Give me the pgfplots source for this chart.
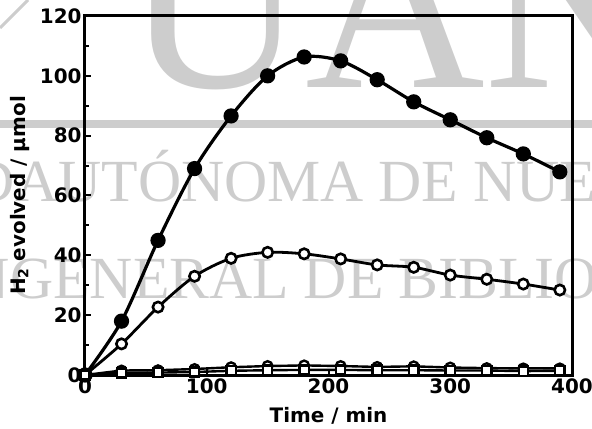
\documentclass[border=0pt]{standalone}
\usepackage{pgfplots}
\pgfplotsset{compat=1.18}
\usepackage{fontspec}
\setmainfont{DejaVu Sans}
\newfontfamily\wmfont{Liberation Serif}
\definecolor{wm}{RGB}{205,205,205}

\begin{document}
\begin{tikzpicture}
% library watermark behind the plot
\begin{scope}
\clip (-85bp,-54bp) rectangle (507bp,375bp);
\fill[wm] (-85bp,247bp) rectangle (507bp,255bp);
\draw[wm, line width=3bp] (-85bp,347bp) -- (-57bp,375bp);
\node[wm, anchor=base west, inner sep=0, font=\wmfont\fontsize{250}{250}\selectfont] at (40bp,287bp) {UAN};
\node[wm, anchor=base west, inner sep=0, font=\wmfont\fontsize{60}{60}\selectfont] at (-70bp,173bp) {AUTÓNOMA DE NUEVO LEÓN};
\node[wm, anchor=base east, inner sep=0, font=\wmfont\fontsize{60}{60}\selectfont] at (-70bp,173bp) {UNIVERSIDAD\ };
\node[wm, anchor=base west, inner sep=0, font=\wmfont\fontsize{60}{60}\selectfont] at (-75bp,76bp) {GENERAL DE BIBLIOTECAS};
\node[wm, anchor=base east, inner sep=0, font=\wmfont\fontsize{60}{60}\selectfont] at (-75bp,76bp) {DIRECCIÓN\ };
\end{scope}

\begin{axis}[
  scale only axis,
  width=487bp, height=359bp,
  xmin=0, xmax=400, ymin=0, ymax=120,
  xtick={0,100,200,300,400},
  ytick={0,20,40,60,80,100,120},
  minor y tick num=1,
  xtick pos=left, ytick pos=left,
  tick align=inside,
  major tick length=6bp, minor tick length=4bp,
  tick style={black, line width=2bp},
  axis line style={line width=3bp},
  /pgf/number format/assume math mode=true,
  ticklabel style={font=\fontsize{20}{24}\selectfont\bfseries},
  label style={font=\fontsize{20}{24}\selectfont\bfseries},
  xlabel={Time / min},
  ylabel={H\textsubscript{2} evolved / µmol},
  xlabel style={at={(axis description cs:0.5,-0.114)}, anchor=center},
  ylabel style={at={(axis description cs:-0.134,0.5)}, anchor=center},
]
% filled circles
\addplot[black, line width=3.2bp, smooth, mark=*, mark size=6bp, mark options={fill=black}]
  coordinates {(0,0) (30,18) (60,45) (90,69) (120,86.6) (150,100) (180,106.3) (210,105)
               (240,98.7) (270,91.3) (300,85.3) (330,79.3) (360,73.9) (390,67.9)};
% open circles
\addplot[black, line width=2.8bp, smooth, mark=*, mark size=5.2bp, mark options={fill=white, line width=2.6bp}]
  coordinates {(0,0) (30,10.4) (60,22.7) (90,33) (120,39) (150,41) (180,40.5) (210,38.8)
               (240,36.8) (270,36) (300,33.4) (330,32) (360,30.4) (390,28.4)};
% open circles, low
\addplot[black, line width=2.4bp, mark=*, mark size=4.8bp, mark options={fill=white, line width=2.4bp}]
  coordinates {(0,0) (30,1.5) (60,1.6) (90,2) (120,2.6) (150,3) (180,3.2) (210,3)
               (240,2.7) (270,2.9) (300,2.5) (330,2.3) (360,2.2) (390,2.2)};
% open squares, low
\addplot[black, line width=2.4bp, mark=square*, mark size=4.6bp, mark options={fill=white, line width=2.4bp}]
  coordinates {(0,0) (30,0.7) (60,0.8) (90,1) (120,1.4) (150,1.6) (180,1.7) (210,1.7)
               (240,1.6) (270,1.6) (300,1.5) (330,1.5) (360,1.3) (390,1.4)};
\end{axis}
\pgfresetboundingbox
\path (-85bp,-54bp) rectangle (507bp,375bp);
\end{tikzpicture}
\end{document}
